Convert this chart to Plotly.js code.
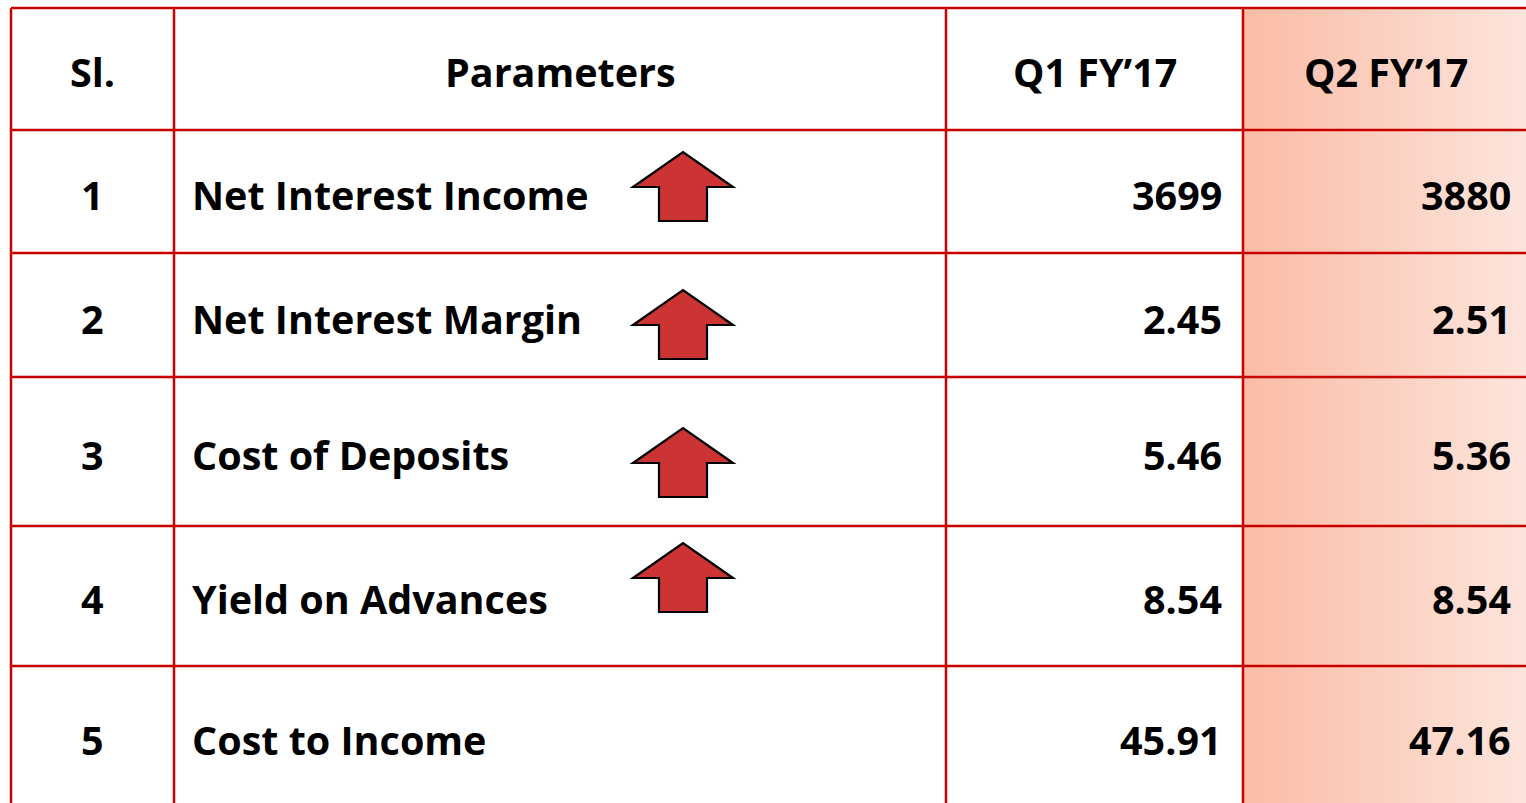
<!DOCTYPE html>
<html>
<head>
<meta charset="utf-8">
<script src="https://cdn.plot.ly/plotly-3.0.1.min.js"></script>
<style>html,body{margin:0;padding:0;background:#fff;}#chart{width:1526px;height:803px;}</style>
</head>
<body>
<div id="chart"></div>
<script>
// ---- data ----
const headers = ['Sl.', 'Parameters', 'Q1 FY\u201917', 'Q2 FY\u201917'];
const slNo = ['1', '2', '3', '4', '5'];
const parameters = ['Net Interest Income', 'Net Interest Margin', 'Cost of Deposits', 'Yield on Advances', 'Cost to Income'];
const q1FY17 = ['3699', '2.45', '5.46', '8.54', '45.91'];
const q2FY17 = ['3880', '2.51', '5.36', '8.54', '47.16'];
const trend = ['up', 'up', 'up', 'up', ''];

// ---- layout constants ----
const W = 1526, H = 803;
const colEdges = [11, 174, 946, 1243, 1530];
const rowEdges = [8, 130, 253, 377, 526, 666, 810];
const textY = [72, 195, 319, 455, 599, 740];
const arrowTipY = [152, 290, 428, 543];
const arrowCx = 683, arrowHalfW = 50, stemHalfW = 24, headH = 35, arrowH = 69;
const gridColor = '#C80000';
const FONT = '"Open Sans", Lato, sans-serif';
const fs = 39.5;

const shapes = [];
// grid lines
colEdges.slice(0, 4).forEach(x => shapes.push({type: 'line', xref: 'x', yref: 'y', x0: x, x1: x, y0: rowEdges[0], y1: H + 5, line: {color: gridColor, width: 2.5}}));
rowEdges.slice(0, 6).forEach(y => shapes.push({type: 'line', xref: 'x', yref: 'y', x0: colEdges[0], x1: W + 5, y0: y, y1: y, line: {color: gridColor, width: 2.5}}));
// arrows
trend.forEach((t, i) => {
  if (t !== 'up') return;
  const ty = arrowTipY[i];
  const hy = ty + headH, by = ty + arrowH;
  const p = `M ${arrowCx - arrowHalfW},${hy} L ${arrowCx},${ty} L ${arrowCx + arrowHalfW},${hy} L ${arrowCx + stemHalfW},${hy} L ${arrowCx + stemHalfW},${by} L ${arrowCx - stemHalfW},${by} L ${arrowCx - stemHalfW},${hy} Z`;
  shapes.push({type: 'path', xref: 'x', yref: 'y', path: p, fillcolor: '#CC3333', line: {color: '#000', width: 2.2}});
});

const ann = [];
const font = {family: FONT, size: fs, color: '#000', weight: 700};
function add(text, x, y, xanchor) {
  ann.push({text: '<b>' + text + '</b>', x: x, y: y, xref: 'x', yref: 'y', xanchor: xanchor, yanchor: 'middle', showarrow: false, font: font});
}
// header
add(headers[0], (colEdges[0] + colEdges[1]) / 2, textY[0], 'center');
add(headers[1], (colEdges[1] + colEdges[2]) / 2, textY[0], 'center');
add(headers[2], (colEdges[2] + colEdges[3]) / 2, textY[0], 'center');
add(headers[3], 1386, textY[0], 'center');
for (let i = 0; i < slNo.length; i++) {
  const y = textY[i + 1];
  add(slNo[i], (colEdges[0] + colEdges[1]) / 2, y, 'center');
  add(parameters[i], 190, y, 'left');
  add(q1FY17[i], 1224, y, 'right');
  add(q2FY17[i], 1513, y, 'right');
}

const grad = '<svg xmlns="http://www.w3.org/2000/svg" width="100" height="100" preserveAspectRatio="none"><defs><linearGradient id="g" x1="0" y1="0" x2="1" y2="0"><stop offset="0" stop-color="#FBBCA6"/><stop offset="1" stop-color="#FDE5DD"/></linearGradient></defs><rect width="100" height="100" fill="url(#g)"/></svg>';

const layout = {
  width: W, height: H,
  margin: {l: 0, r: 0, t: 0, b: 0},
  paper_bgcolor: '#fff', plot_bgcolor: '#fff',
  xaxis: {range: [0, W], visible: false, fixedrange: true},
  yaxis: {range: [H, 0], visible: false, fixedrange: true},
  showlegend: false,
  shapes: shapes,
  annotations: ann,
  images: [{
    source: 'data:image/svg+xml;charset=utf-8,' + encodeURIComponent(grad),
    xref: 'x', yref: 'y', x: colEdges[3], y: rowEdges[0],
    sizex: W - colEdges[3] + 4, sizey: H - rowEdges[0] + 5,
    sizing: 'stretch', xanchor: 'left', yanchor: 'top', layer: 'below'
  }]
};

Plotly.newPlot('chart', [{type: 'scatter', x: [], y: [], hoverinfo: 'skip'}], layout, {displayModeBar: false, staticPlot: true});
</script>
</body>
</html>
